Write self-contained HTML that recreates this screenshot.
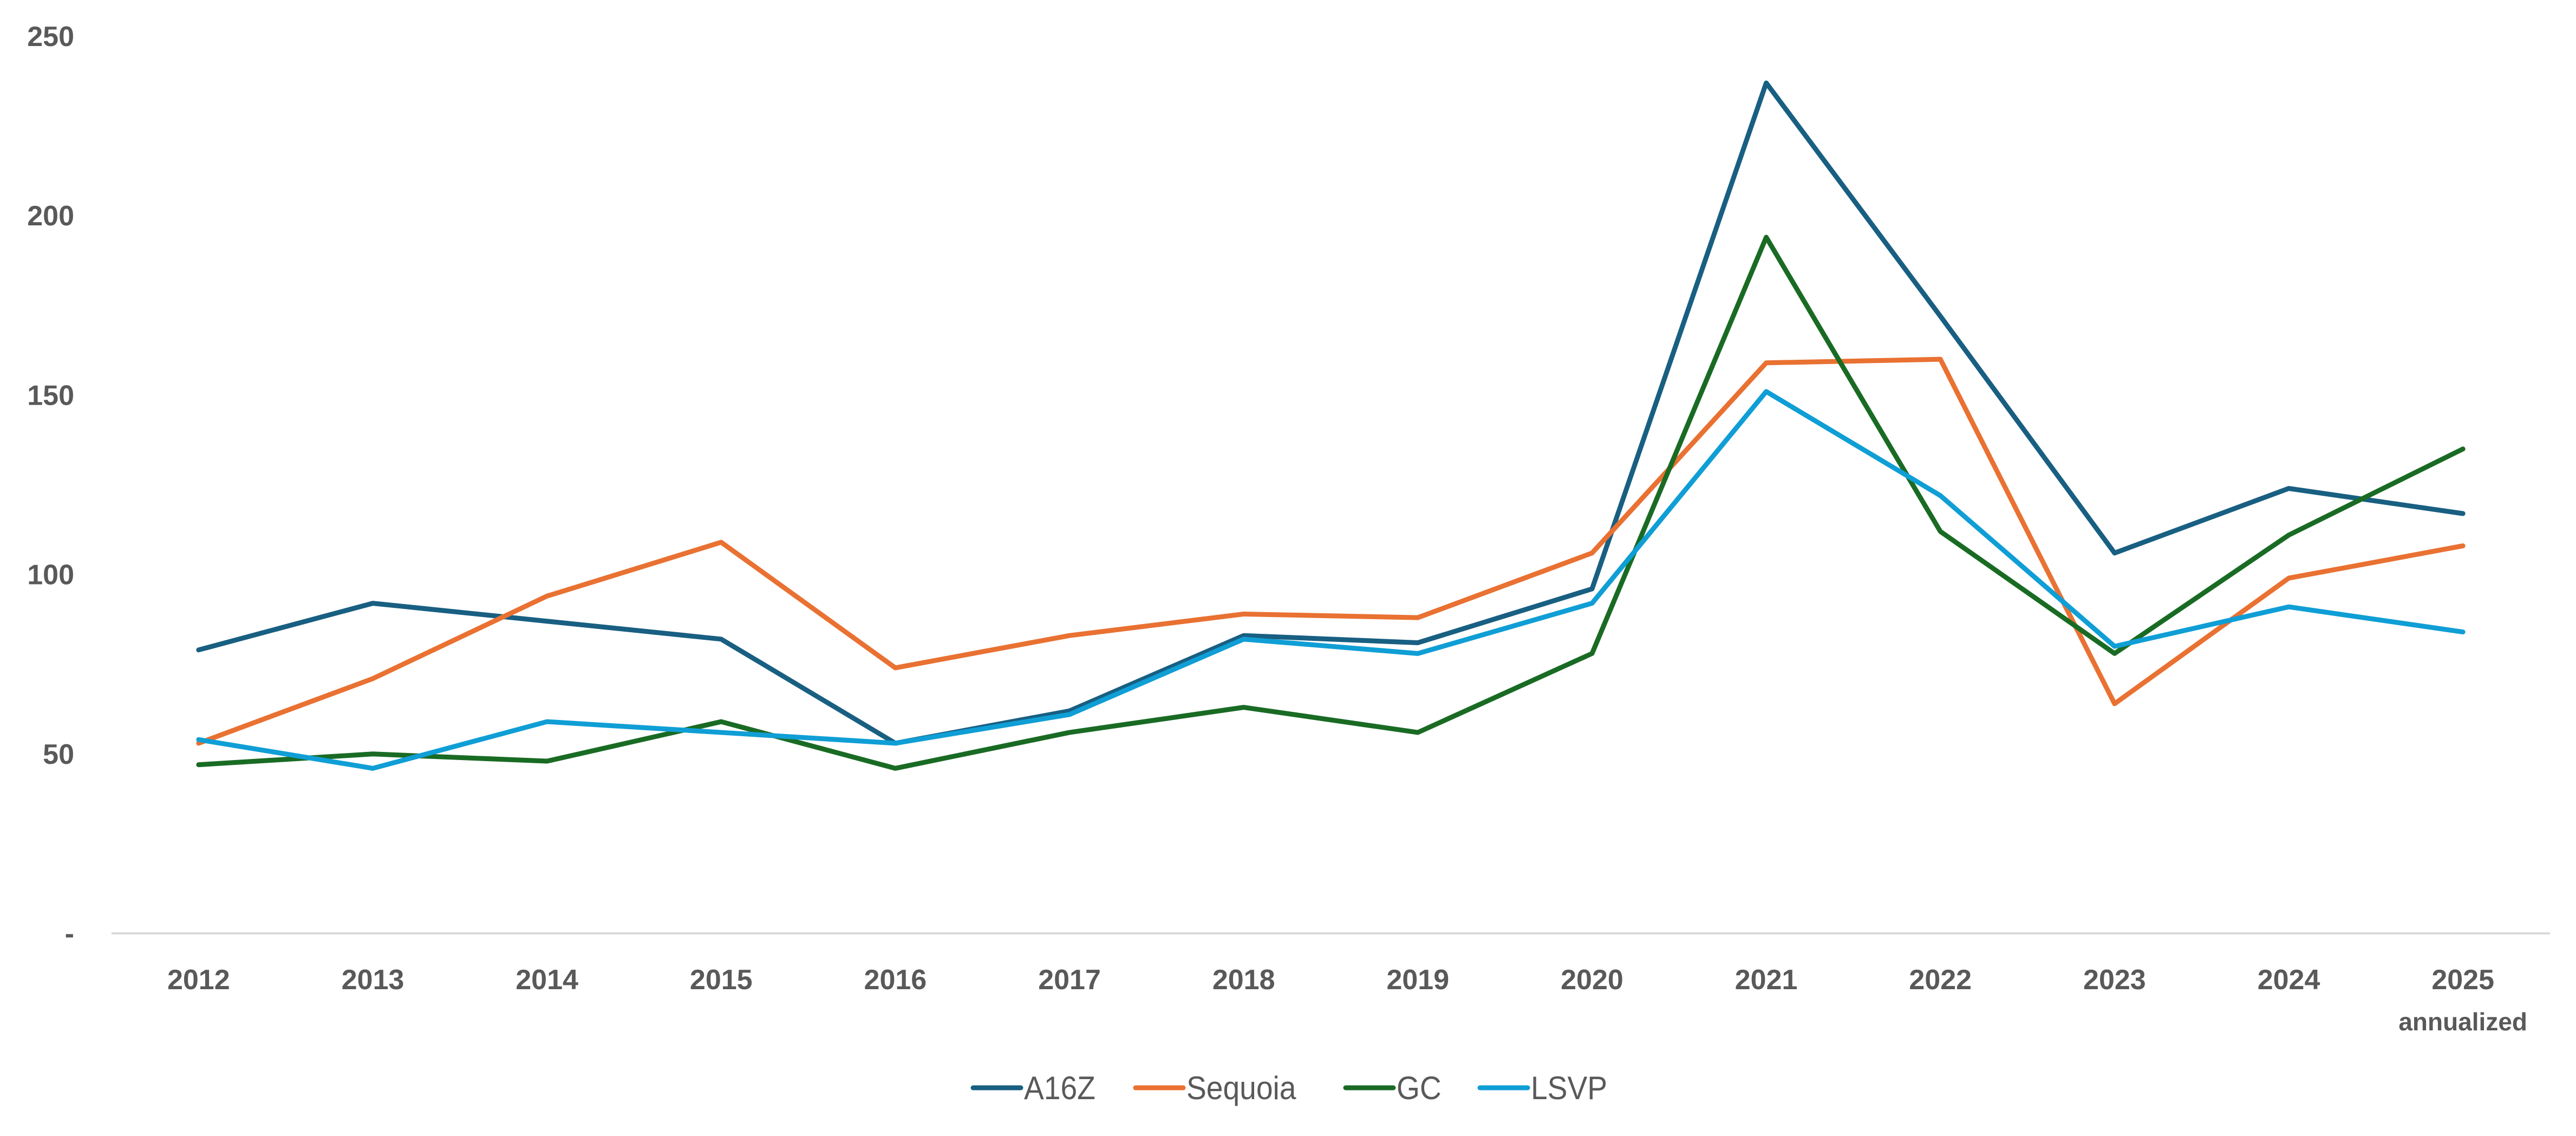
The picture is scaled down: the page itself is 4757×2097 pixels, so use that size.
<!DOCTYPE html>
<html><head><meta charset="utf-8"><style>
html,body{margin:0;padding:0;background:#fff;}
svg{display:block;}
</style></head><body>
<svg id="chart" width="4757" height="2097" xmlns="http://www.w3.org/2000/svg">
<g id="grid"></g><g id="series"></g><g id="labels"></g><g id="legend"></g>
</svg>
<script>
const categories = ["2012","2013","2014","2015","2016","2017","2018","2019","2020","2021","2022","2023","2024","2025"];
const a16z = [79,92,87,82,53,62,83,81,96,237,172,106,124,117];
const sequoia = [53,71,94,109,74,83,89,88,106,159,160,64,99,108];
const gc = [47,50,48,59,46,56,63,56,78,194,112,78,111,135];
const lsvp = [54,46,59,56,53,61,82,78,92,151,122,80,91,84];
const yTicks = [0,50,100,150,200,250];
const yTickLabels = ["-","50","100","150","200","250"];
const seriesNames = ["A16Z","Sequoia","GC","LSVP"];
const seriesColors = ["#185f82","#e97132","#196b24","#0f9ed5"];

const NS="http://www.w3.org/2000/svg";
const L=206,R=4709,Y0=1723,Y250=67;
const band=(R-L)/categories.length;
const x=i=>L+band*(i+0.5);
const y=v=>Y0-(v/250)*(Y0-Y250);
function mk(tag,attrs,parent){const e=document.createElementNS(NS,tag);for(const k in attrs)e.setAttribute(k,attrs[k]);parent.appendChild(e);return e;}
const grid=document.getElementById('grid'),ser=document.getElementById('series'),lab=document.getElementById('labels'),leg=document.getElementById('legend');
const ax=mk('line',{x1:L,x2:R,y1:Y0,y2:Y0,stroke:'#d9d9d9','stroke-width':4},grid);


yTicks.forEach((t,i)=>{
  const tx=mk('text',{x:137,y:y(t)+18,'text-anchor':'end','font-family':'Liberation Sans, sans-serif','font-weight':'bold','font-size':52,fill:'#595959'},lab);
  tx.textContent=yTickLabels[i];
  
  
});
categories.forEach((c,i)=>{
  const tx=mk('text',{x:x(i),y:1826,'text-anchor':'middle','font-family':'Liberation Sans, sans-serif','font-weight':'bold','font-size':52,fill:'#595959'},lab);
  tx.textContent=c;
  
  
});
const an=mk('text',{x:x(13),y:1902,'text-anchor':'middle','font-family':'Liberation Sans, sans-serif','font-weight':'bold','font-size':46,fill:'#595959'},lab);
an.textContent='annualized';


[a16z,sequoia,gc,lsvp].forEach((arr,s)=>{
  const p=mk('polyline',{points:arr.map((v,i)=>x(i)+','+y(v)).join(' '),fill:'none',stroke:seriesColors[s],'stroke-width':9,'stroke-linejoin':'round','stroke-linecap':'round'},ser);
  
  
});
const legX=[1793,2093,2481,2729];
seriesNames.forEach((n,s)=>{
  const g=mk('g',{},leg);
  
  
  mk('line',{x1:legX[s]+4,x2:legX[s]+92,y1:2008,y2:2008,stroke:seriesColors[s],'stroke-width':9,'stroke-linecap':'round'},g);
  const tx=legX[s]+98;
  const t=mk('text',{x:0,y:0,transform:'translate('+tx+',2029) scale(0.92,1)','font-family':'Liberation Sans, sans-serif','font-size':60,fill:'#595959'},g);
  t.textContent=n;
});
</script>
</body></html>
